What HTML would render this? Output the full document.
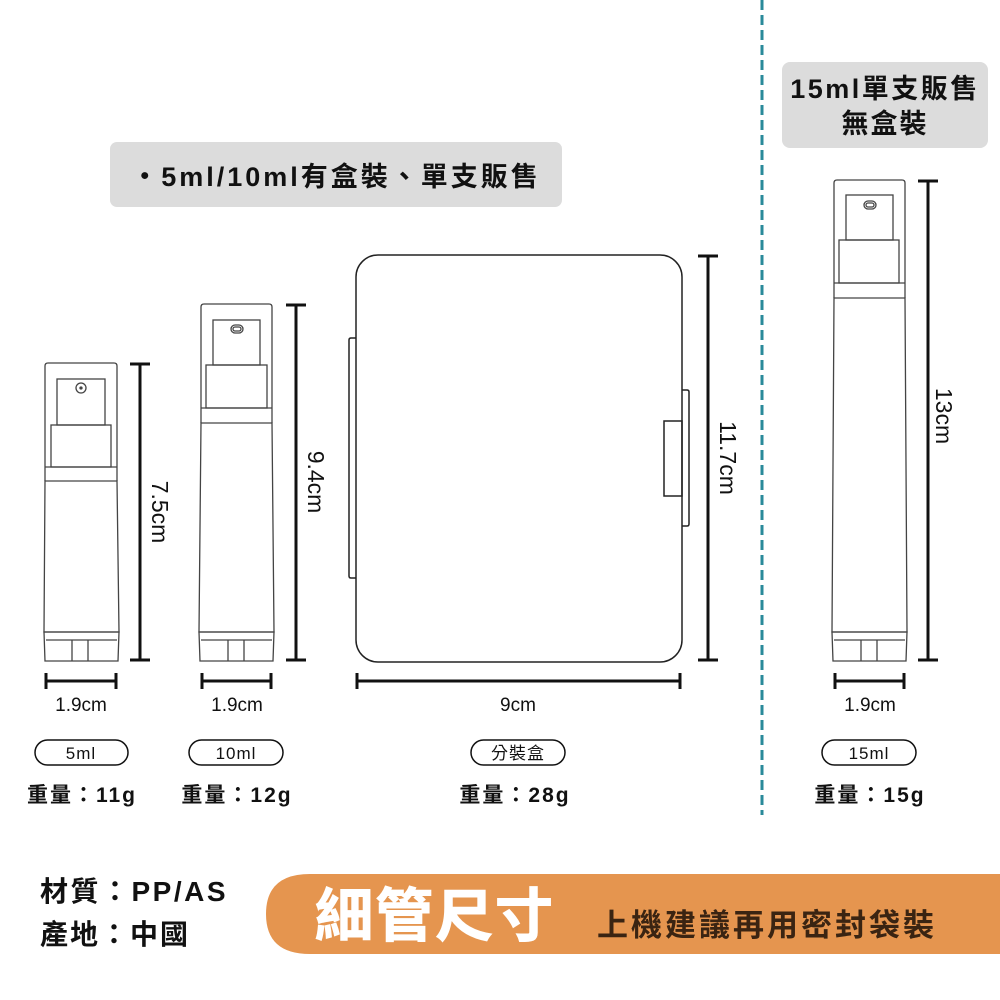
<!DOCTYPE html>
<html><head><meta charset="utf-8"><style>
html,body{margin:0;padding:0;background:#fff;width:1000px;height:1000px;overflow:hidden}
svg{display:block}
text{font-family:"Liberation Sans","Noto Sans CJK TC",sans-serif}
</style></head><body>
<svg width="1000" height="1000" viewBox="0 0 1000 1000" xmlns="http://www.w3.org/2000/svg">
<line x1="762" y1="0" x2="762" y2="815" stroke="#2a8a9a" stroke-width="3" stroke-dasharray="10,5"/>
<rect x="110" y="142" width="452" height="65" rx="7" fill="#dcdcdc"/>
<text x="336" y="186" text-anchor="middle" font-size="27" font-weight="bold" fill="#111" letter-spacing="3">・5ml/10ml有盒裝、單支販售</text>
<rect x="782" y="62" width="206" height="86" rx="8" fill="#dcdcdc"/>
<text x="885" y="98" text-anchor="middle" font-size="27" font-weight="bold" fill="#111" letter-spacing="2.5">15ml單支販售</text>
<text x="885" y="133" text-anchor="middle" font-size="27" font-weight="bold" fill="#111" letter-spacing="2">無盒裝</text>

<g fill="none" stroke="#444" stroke-width="1.3">
<path d="M45,481 L45,366 Q45,363 48,363 L114,363 Q117,363 117,366 L117,481"/>
<rect x="57" y="379" width="48" height="46"/>
<circle cx="81" cy="388" r="5"/><circle cx="81" cy="388" r="1" fill="#555"/>
<rect x="51" y="425" width="60" height="42"/>
<line x1="45" y1="467" x2="117" y2="467"/>
<path d="M45,481 L117,481 L119,632 L44,632 Z"/>
<path d="M44,632 L119,632 L118,661 L45,661 Z"/>
<line x1="46" y1="640" x2="117" y2="640"/>
<line x1="72" y1="640" x2="72" y2="661"/><line x1="88" y1="640" x2="88" y2="661"/>
<path d="M201,423 L201,307 Q201,304 204,304 L269,304 Q272,304 272,307 L272,423"/>
<rect x="213" y="320" width="47" height="45"/>
<rect x="231" y="325" width="12" height="8" rx="4"/><rect x="233" y="327" width="8" height="4" rx="2"/>
<rect x="206" y="365" width="61" height="43"/>
<line x1="201" y1="408" x2="272" y2="408"/>
<path d="M201,423 L272,423 L274,632 L199,632 Z"/>
<path d="M199,632 L274,632 L273,661 L200,661 Z"/>
<line x1="201" y1="640" x2="272" y2="640"/>
<line x1="228" y1="640" x2="228" y2="661"/><line x1="244" y1="640" x2="244" y2="661"/>
<path d="M834,298 L834,183 Q834,180 837,180 L902,180 Q905,180 905,183 L905,298"/>
<rect x="846" y="195" width="47" height="45"/>
<rect x="864" y="201" width="12" height="8" rx="4"/><rect x="866" y="203" width="8" height="4" rx="2"/>
<rect x="839" y="240" width="60" height="43"/>
<line x1="834" y1="283" x2="905" y2="283"/>
<path d="M834,298 L905,298 L907,632 L832,632 Z"/>
<path d="M832,632 L907,632 L906,661 L833,661 Z"/>
<line x1="834" y1="640" x2="905" y2="640"/>
<line x1="861" y1="640" x2="861" y2="661"/><line x1="877" y1="640" x2="877" y2="661"/>
</g>
<g fill="none" stroke="#222" stroke-width="1.5">
<rect x="356" y="255" width="326" height="407" rx="22"/>
<path d="M356,338 L351,338 Q349,338 349,340 L349,576 Q349,578 351,578 L356,578"/>
<path d="M682,390 L687,390 Q689,390 689,392 L689,524 Q689,526 687,526 L682,526"/>
<rect x="664" y="421" width="18" height="75"/>
</g>
<g stroke="#111" stroke-width="3">
<line x1="140" y1="363" x2="140" y2="661"/><line x1="130" y1="364" x2="150" y2="364"/><line x1="130" y1="660" x2="150" y2="660"/>
<line x1="296" y1="304" x2="296" y2="661"/><line x1="286" y1="305" x2="306" y2="305"/><line x1="286" y1="660" x2="306" y2="660"/>
<line x1="708" y1="255" x2="708" y2="661"/><line x1="698" y1="256" x2="718" y2="256"/><line x1="698" y1="660" x2="718" y2="660"/>
<line x1="928" y1="180" x2="928" y2="661"/><line x1="918" y1="181" x2="938" y2="181"/><line x1="918" y1="660" x2="938" y2="660"/>
<line x1="45" y1="681" x2="117" y2="681"/><line x1="46" y1="673" x2="46" y2="689"/><line x1="116" y1="673" x2="116" y2="689"/>
<line x1="201" y1="681" x2="272" y2="681"/><line x1="202" y1="673" x2="202" y2="689"/><line x1="271" y1="673" x2="271" y2="689"/>
<line x1="356" y1="681" x2="681" y2="681"/><line x1="357" y1="673" x2="357" y2="689"/><line x1="680" y1="673" x2="680" y2="689"/>
<line x1="834" y1="681" x2="905" y2="681"/><line x1="835" y1="673" x2="835" y2="689"/><line x1="904" y1="673" x2="904" y2="689"/>
</g>
<g font-size="23" fill="#111">
<text transform="translate(152,512) rotate(90)" text-anchor="middle">7.5cm</text>
<text transform="translate(308,482) rotate(90)" text-anchor="middle">9.4cm</text>
<text transform="translate(720,458) rotate(90)" text-anchor="middle">11.7cm</text>
<text transform="translate(936,416) rotate(90)" text-anchor="middle">13cm</text>
</g>
<g font-size="19" fill="#111" text-anchor="middle">
<text x="81" y="711">1.9cm</text>
<text x="237" y="711">1.9cm</text>
<text x="518" y="711">9cm</text>
<text x="870" y="711">1.9cm</text>
</g>
<g fill="none" stroke="#111" stroke-width="1.5">
<rect x="35" y="740" width="93" height="25" rx="12.5"/>
<rect x="189" y="740" width="94" height="25" rx="12.5"/>
<rect x="471" y="740" width="94" height="25" rx="12.5"/>
<rect x="822" y="740" width="94" height="25" rx="12.5"/>
</g>
<g font-size="17" fill="#111" text-anchor="middle" letter-spacing="1">
<text x="81" y="759">5ml</text>
<text x="236" y="759">10ml</text>
<text x="518" y="759">分裝盒</text>
<text x="869" y="759">15ml</text>
</g>
<g font-size="21" font-weight="bold" fill="#111" text-anchor="middle" letter-spacing="2">
<text x="82" y="802">重量：11g</text>
<text x="237" y="802">重量：12g</text>
<text x="515" y="802">重量：28g</text>
<text x="870" y="802">重量：15g</text>
</g>
<text x="40" y="901" font-size="28" font-weight="bold" fill="#111" letter-spacing="2.5">材質：PP/AS</text>
<text x="40" y="944" font-size="28" font-weight="bold" fill="#111" letter-spacing="2">產地：中國</text>
<path d="M310,874 L1000,874 L1000,954 L310,954 Q266,954 266,914 Q266,874 310,874 Z" fill="#e5954f"/>
<text x="315" y="936" font-size="58" font-weight="bold" fill="#fff" stroke="#fff" stroke-width="1" letter-spacing="2">細管尺寸</text>
<text x="597" y="936" font-size="31" font-weight="bold" fill="#3a2412" letter-spacing="3">上機建議再用密封袋裝</text>
</svg>
</body></html>
